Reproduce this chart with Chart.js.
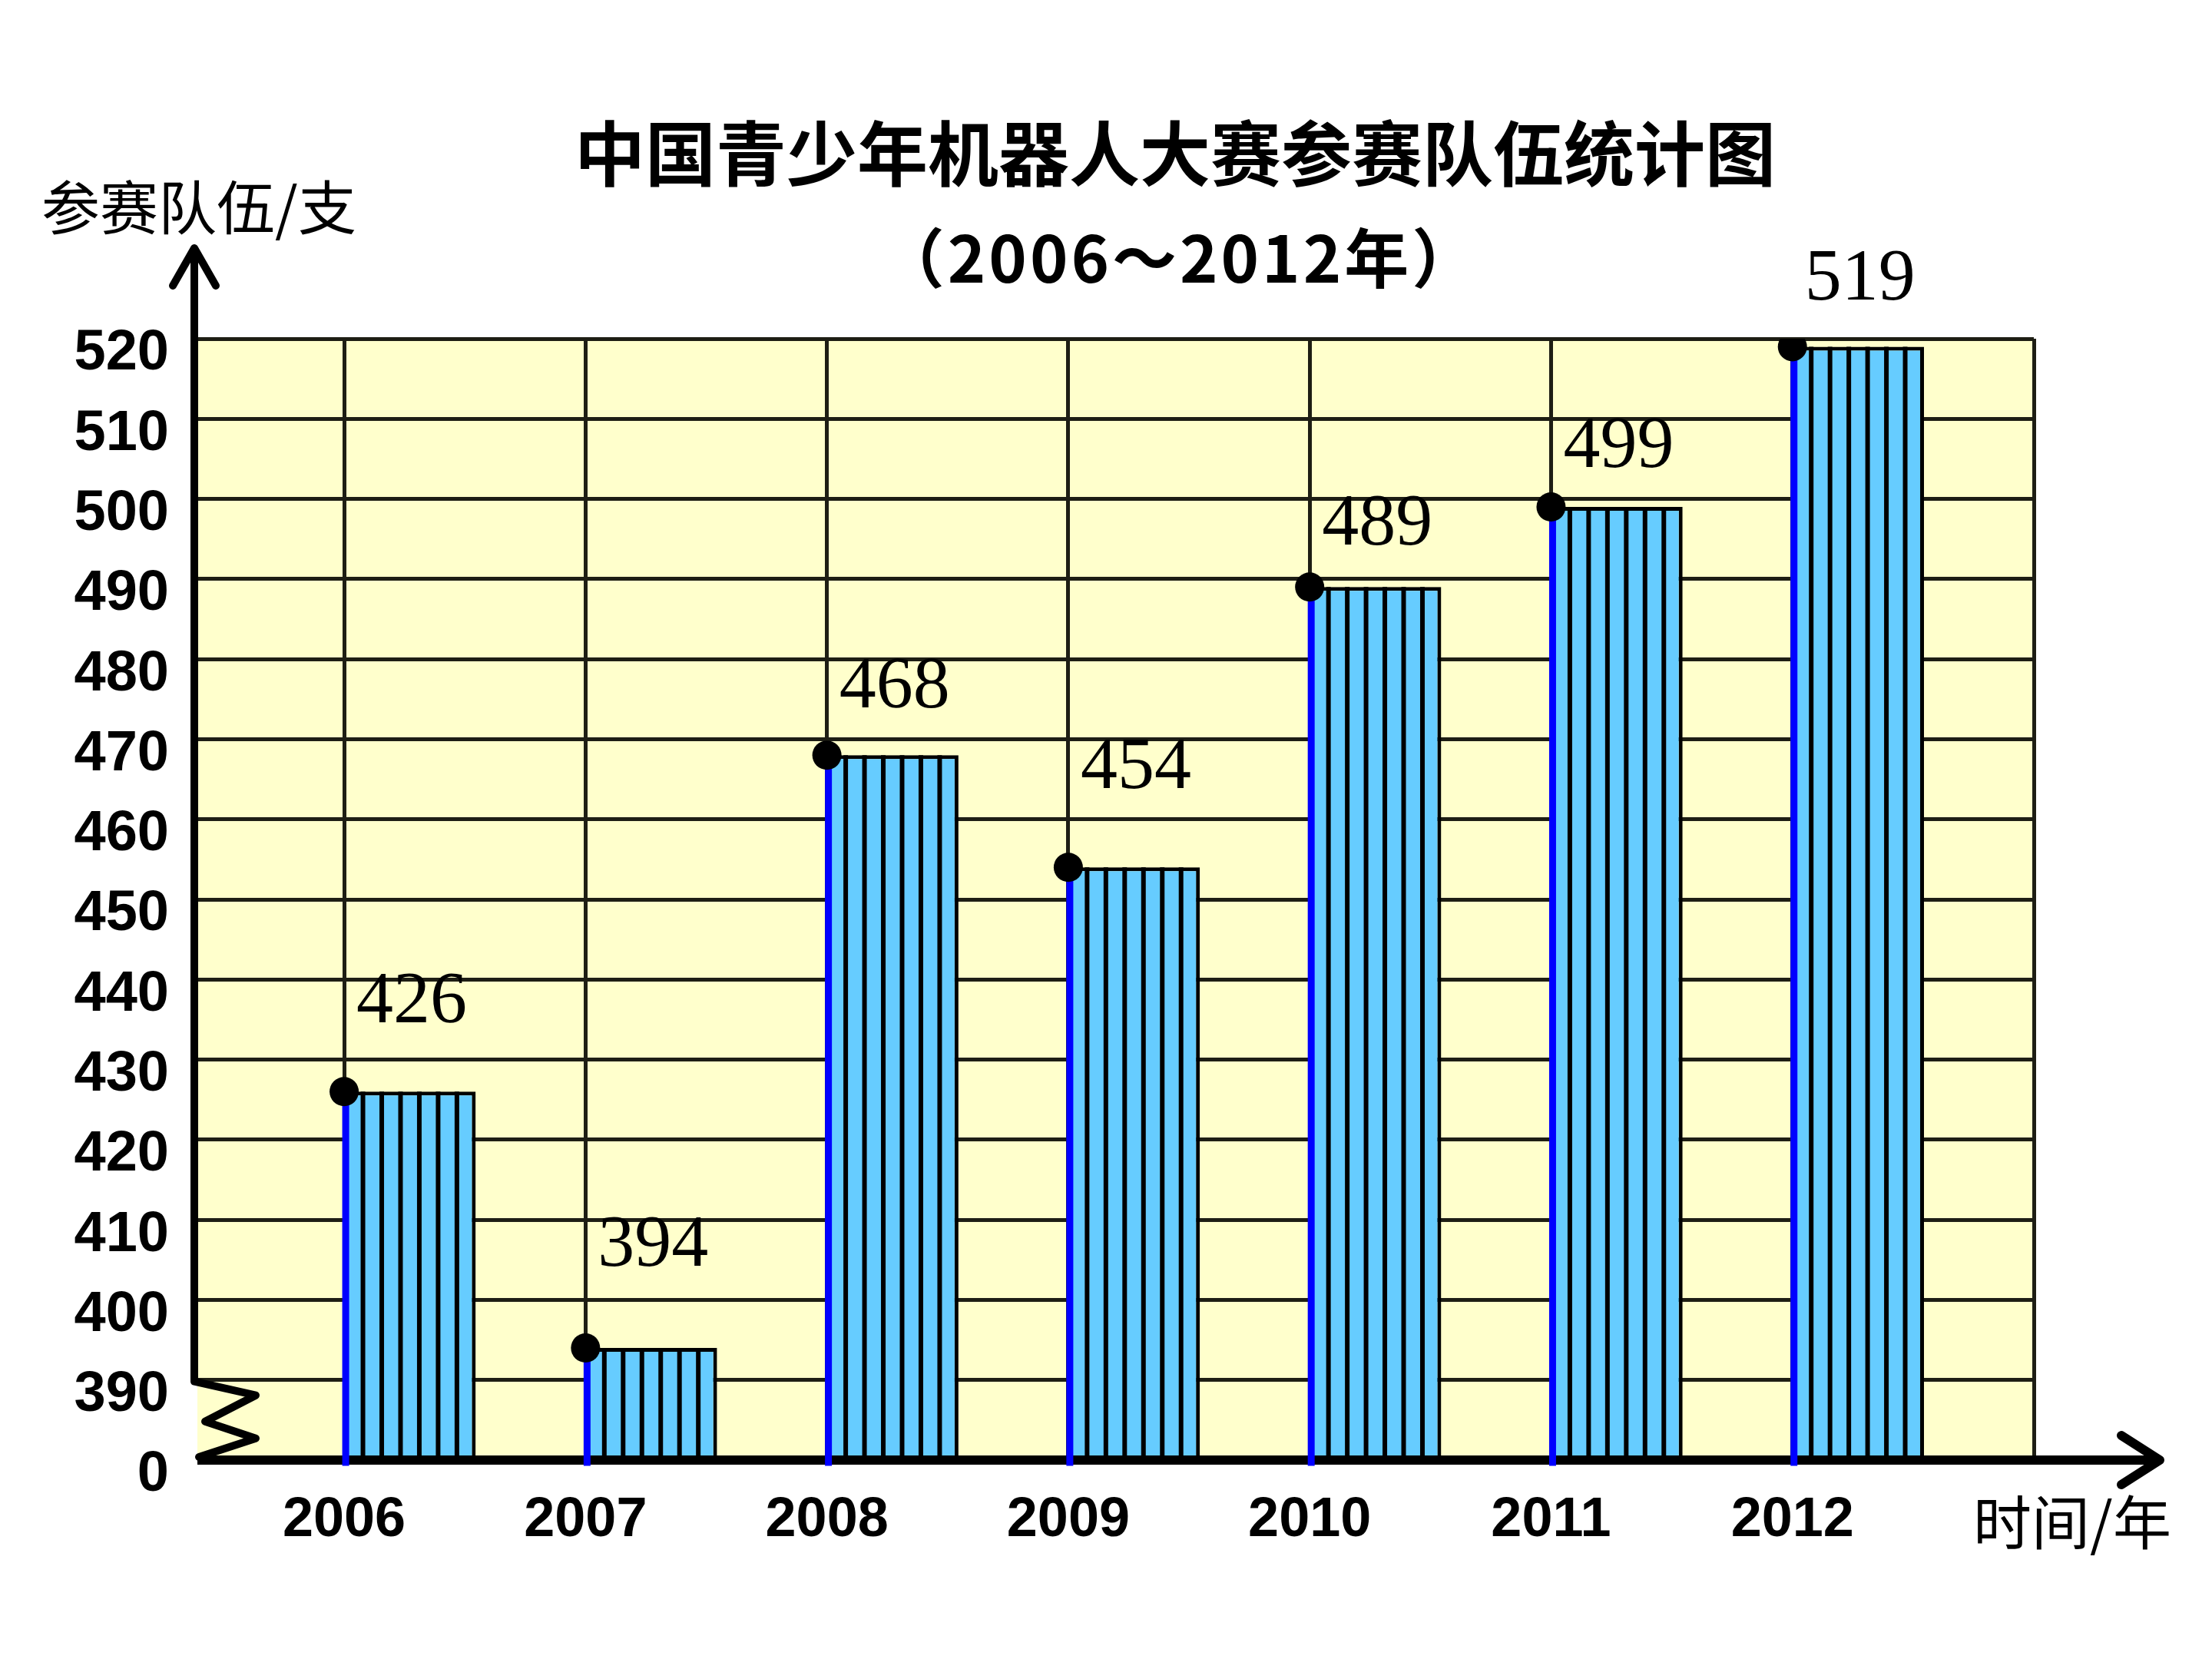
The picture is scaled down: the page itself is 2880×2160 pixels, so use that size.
<!DOCTYPE html>
<html lang="zh-CN">
<head>
    <meta charset="UTF-8">
    <title>中国青少年机器人大赛参赛队伍统计图</title>
    <script src="https://cdn.jsdelivr.net/npm/chart.js"></script>
    <style>
        body { margin: 0; background: #fff; }
        canvas { display: block; }
    </style>
</head>
<body>
    <canvas id="teamChart" width="2880" height="2160"></canvas>

    <script>
        // chart data
        const years = ['2006', '2007', '2008', '2009', '2010', '2011', '2012'];
        const teams = [426, 394, 468, 454, 489, 499, 519];
        const yTickValues = [380, 390, 400, 410, 420, 430, 440, 450, 460, 470, 480, 490, 500, 510, 520];
        const yTickLabels = ['0', '390', '400', '410', '420', '430', '440', '450', '460', '470', '480', '490', '500', '510', '520'];

        const titleText = '中国青少年机器人大赛参赛队伍统计图';
        const subtitleText = '（2006～2012年）';
        const yAxisTitle = '参赛队伍/支';
        const xAxisTitle = '时间/年';

        // layout bits
        const barFrac = 0.545;   // bar width as part of one year step
        const stripes = 7;       // vertical strips inside each bar
        const labelLift = [116, 132, 88, 129, 81, 77, 87]; // px above the dot, as hand placed in the original
        const gridColor = '#1e1e14';
        const cjkFont = '"Noto Sans CJK SC", sans-serif';
        const tickFont = '"Liberation Sans", Arial, sans-serif';

        const decor = {
            id: 'decor',
            beforeDraw(chart) {
                const { ctx, chartArea: a } = chart;
                ctx.save();
                ctx.fillStyle = '#ffffcc';
                ctx.fillRect(a.left, a.top, a.right - a.left, a.bottom - a.top);
                ctx.restore();
            },
            afterDatasetDraw(chart, args) {
                if (args.index !== 0) return;
                const { ctx, chartArea: a, scales: { y } } = chart;
                const bars = chart.getDatasetMeta(0).data;
                ctx.save();

                // strips inside bars
                ctx.strokeStyle = '#000';
                ctx.lineWidth = 6;
                bars.forEach(el => {
                    const p = el.getProps(['x', 'y', 'base', 'width'], true);
                    const left = p.x - p.width / 2;
                    for (let k = 1; k < stripes; k++) {
                        const sx = left + k * p.width / stripes;
                        ctx.beginPath();
                        ctx.moveTo(sx, p.y);
                        ctx.lineTo(sx, p.base);
                        ctx.stroke();
                    }
                });

                // axes
                const ax = a.left - 4;
                const breakY = y.getPixelForValue(yTickValues[1]);
                ctx.lineCap = 'round';
                ctx.lineJoin = 'round';
                ctx.lineWidth = 10;
                ctx.beginPath();
                ctx.moveTo(ax, breakY);
                ctx.lineTo(ax, 325);
                ctx.stroke();
                ctx.beginPath();
                ctx.moveTo(ax - 28, 372);
                ctx.lineTo(ax, 323);
                ctx.lineTo(ax + 28, 372);
                ctx.stroke();

                // break zigzag
                ctx.beginPath();
                ctx.moveTo(ax, breakY + 2);
                ctx.lineTo(ax + 80, breakY + 20);
                ctx.lineTo(ax + 14, breakY + 54);
                ctx.lineTo(ax + 80, breakY + 76);
                ctx.lineTo(ax + 6, a.bottom - 4);
                ctx.stroke();

                ctx.lineWidth = 12;
                ctx.lineCap = 'butt';
                ctx.beginPath();
                ctx.moveTo(a.left, a.bottom);
                ctx.lineTo(2808, a.bottom);
                ctx.stroke();
                ctx.lineCap = 'round';
                ctx.beginPath();
                ctx.moveTo(2762, a.bottom - 32);
                ctx.lineTo(2812, a.bottom);
                ctx.lineTo(2762, a.bottom + 32);
                ctx.stroke();

                // blue edge line of each bar
                ctx.lineCap = 'butt';
                ctx.strokeStyle = '#0000ff';
                ctx.lineWidth = 9;
                bars.forEach(el => {
                    const p = el.getProps(['x', 'y', 'base', 'width'], true);
                    const bx = p.x - p.width / 2 + 2;
                    ctx.beginPath();
                    ctx.moveTo(bx, p.y);
                    ctx.lineTo(bx, p.base + 10);
                    ctx.stroke();
                });
                ctx.restore();
            },
            afterDatasetsDraw(chart) {
                const { ctx, scales: { x, y } } = chart;
                ctx.save();
                ctx.fillStyle = '#000';
                ctx.font = '96px "Liberation Serif", "Times New Roman", serif';
                ctx.textAlign = 'center';
                ctx.textBaseline = 'middle';
                teams.forEach((v, i) => {
                    ctx.fillText(String(v), x.getPixelForValue(i) + 88, y.getPixelForValue(v) - labelLift[i]);
                });

                ctx.font = 'bold 92px ' + cjkFont;
                ctx.fillText(titleText, 1530, 200);
                ctx.font = 'bold 84px ' + cjkFont;
                ctx.letterSpacing = '4px';
                ctx.fillText(subtitleText, 1536, 336);
                ctx.letterSpacing = '0px';
                ctx.font = '76px ' + cjkFont;
                ctx.fillText(yAxisTitle, 259, 270);
                ctx.fillText(xAxisTitle, 2698, 1982);
                ctx.restore();
            }
        };

        const ctx = document.getElementById('teamChart').getContext('2d');
        new Chart(ctx, {
            type: 'bar',
            data: {
                datasets: [
                    {
                        type: 'bar',
                        data: teams.map((v, i) => ({ x: i + barFrac / 2, y: v })),
                        base: yTickValues[0],
                        backgroundColor: '#66ccff',
                        borderColor: '#000',
                        borderWidth: 5,
                        borderSkipped: 'bottom',
                        barPercentage: barFrac,
                        categoryPercentage: 1,
                        order: 2
                    },
                    {
                        type: 'scatter',
                        data: teams.map((v, i) => ({ x: i, y: v })),
                        pointRadius: 19,
                        pointBackgroundColor: '#000',
                        pointBorderWidth: 0,
                        order: 1
                    }
                ]
            },
            options: {
                responsive: false,
                devicePixelRatio: 1,
                animation: false,
                layout: { padding: { left: 0, top: 441, right: 232, bottom: 0 } },
                plugins: {
                    legend: { display: false },
                    tooltip: { enabled: false }
                },
                scales: {
                    x: {
                        type: 'linear',
                        offset: false,
                        min: -0.608,
                        max: years.length,
                        afterBuildTicks: scale => {
                            scale.ticks = years.map((_, i) => ({ value: i })).concat([{ value: years.length }]);
                        },
                        afterFit: scale => { scale.height = 259; },
                        grid: { offset: false, color: gridColor, lineWidth: 5, drawTicks: false },
                        border: { display: false },
                        ticks: {
                            autoSkip: false,
                            maxRotation: 0,
                            padding: 36,
                            color: '#000',
                            font: { family: tickFont, size: 72, weight: 'bold' },
                            callback: value => years[value] ?? ''
                        }
                    },
                    y: {
                        min: yTickValues[0],
                        max: yTickValues[yTickValues.length - 1],
                        afterBuildTicks: scale => {
                            scale.ticks = yTickValues.map(v => ({ value: v }));
                        },
                        afterFit: scale => { scale.width = 257; },
                        grid: { color: gridColor, lineWidth: 5, drawTicks: false },
                        border: { display: false },
                        ticks: {
                            autoSkip: false,
                            padding: 37,
                            color: '#000',
                            font: { family: tickFont, size: 74, weight: 'bold', lineHeight: '40px' },
                            callback: (value, index) => ['', yTickLabels[index]]
                        }
                    }
                }
            },
            plugins: [decor]
        });
    </script>
</body>
</html>
